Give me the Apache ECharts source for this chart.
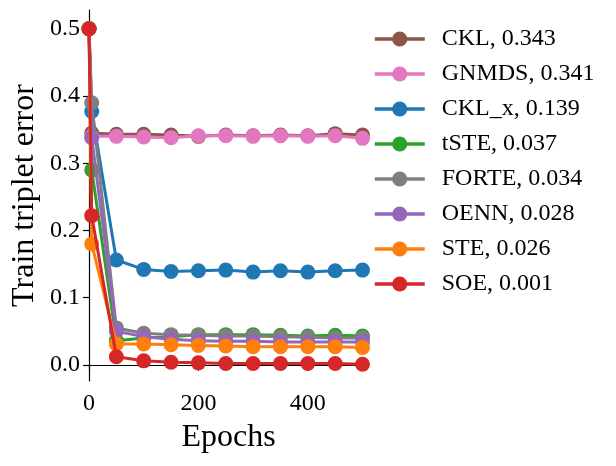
<!DOCTYPE html>
<html>
<head>
<meta charset="utf-8">
<script src="https://cdn.jsdelivr.net/npm/echarts@6/dist/echarts.min.js"></script>
<style>
html,body{margin:0;padding:0;background:#fff;}
#chart{width:616px;height:466px;}
</style>
</head>
<body>
<div id="chart"></div>
<script>
const epochs = [0, 5, 50, 100, 150, 200, 250, 300, 350, 400, 450, 500];
const ckl   = [0.5, 0.345, 0.343, 0.343, 0.342, 0.340, 0.342, 0.341, 0.342, 0.341, 0.344, 0.342];
const gnmds = [0.5, 0.340, 0.340, 0.339, 0.338, 0.341, 0.341, 0.340, 0.341, 0.340, 0.341, 0.337];
const cklx  = [0.5, 0.377, 0.156, 0.142, 0.139, 0.140, 0.141, 0.138, 0.140, 0.138, 0.140, 0.141];
const tste  = [0.5, 0.290, 0.036, 0.040, 0.042, 0.045, 0.045, 0.045, 0.044, 0.043, 0.044, 0.043];
const forte = [0.5, 0.390, 0.055, 0.047, 0.045, 0.044, 0.043, 0.043, 0.042, 0.041, 0.040, 0.040];
const oenn  = [0.5, 0.338, 0.050, 0.042, 0.038, 0.036, 0.035, 0.035, 0.034, 0.034, 0.034, 0.034];
const ste   = [0.5, 0.180, 0.031, 0.031, 0.030, 0.029, 0.028, 0.027, 0.027, 0.027, 0.027, 0.026];
const soe   = [0.5, 0.222, 0.012, 0.006, 0.004, 0.003, 0.002, 0.002, 0.002, 0.002, 0.002, 0.001];

const seriesNames = ['CKL, 0.343', 'GNMDS, 0.341', 'CKL_x, 0.139', 'tSTE, 0.037', 'FORTE, 0.034', 'OENN, 0.028', 'STE, 0.026', 'SOE, 0.001'];
const seriesValues = [ckl, gnmds, cklx, tste, forte, oenn, ste, soe];
const seriesColors = ['#8c564b', '#e377c2', '#1f77b4', '#2ca02c', '#7f7f7f', '#9467bd', '#ff7f0e', '#d62728'];

const xTicks = [0, 200, 400];
const yTicks = [0, 0.1, 0.2, 0.3, 0.4, 0.5];

const FONT = 'Liberation Serif';

const chart = echarts.init(document.getElementById('chart'), null, {renderer: 'canvas'});
const series = seriesNames.map((name, i) => ({
  name: name,
  type: 'line',
  data: epochs.map((e, j) => [e, seriesValues[i][j]]),
  symbol: 'circle',
  symbolSize: 15,
  showSymbol: true,
  clip: true,
  z: 2 + i * 0.01,
  lineStyle: {width: 3, color: seriesColors[i]},
  itemStyle: {color: seriesColors[i]},
  emphasis: {disabled: true}
}));

chart.setOption({
  animation: false,
  backgroundColor: '#fff',
  textStyle: {fontFamily: FONT},
  grid: {left: 89, right: 248, top: 10, bottom: 85, containLabel: false},
  legend: {
    orient: 'vertical',
    left: 368,
    top: 22,
    itemWidth: 50,
    itemHeight: 19,
    itemGap: 11,
    data: seriesNames,
    lineStyle: {width: 3.5},
    textStyle: {fontFamily: FONT, fontSize: 24, color: '#000', padding: [0, 0, 0, 12], lineHeight: 22},
    inactiveColor: '#ccc',
    selectedMode: false
  },
  xAxis: {
    type: 'value',
    min: 0,
    max: 510,
    name: 'Epochs',
    nameLocation: 'middle',
    nameGap: 41,
    nameTextStyle: {fontFamily: FONT, fontSize: 32, color: '#000'},
    axisLine: {show: true, lineStyle: {color: '#000', width: 1.2}},
    axisTick: {show: true, inside: false, length: 6, lineStyle: {color: '#000', width: 1.2}, customValues: xTicks},
    axisLabel: {show: true, fontFamily: FONT, fontSize: 24, color: '#000', margin: 11, customValues: xTicks, formatter: v => String(v)},
    splitLine: {show: false}
  },
  yAxis: {
    type: 'value',
    min: -0.024,
    max: 0.528,
    name: 'Train triplet error',
    nameLocation: 'middle',
    nameGap: 48,
    nameTextStyle: {fontFamily: FONT, fontSize: 32, color: '#000'},
    axisLine: {show: true, lineStyle: {color: '#000', width: 1.2}},
    axisTick: {show: true, inside: false, length: 6, lineStyle: {color: '#000', width: 1.2}, customValues: yTicks},
    axisLabel: {show: true, fontFamily: FONT, fontSize: 24, color: '#000', margin: 9, customValues: yTicks, formatter: v => v.toFixed(1)},
    splitLine: {show: false}
  },
  series: series
});
</script>
</body>
</html>
